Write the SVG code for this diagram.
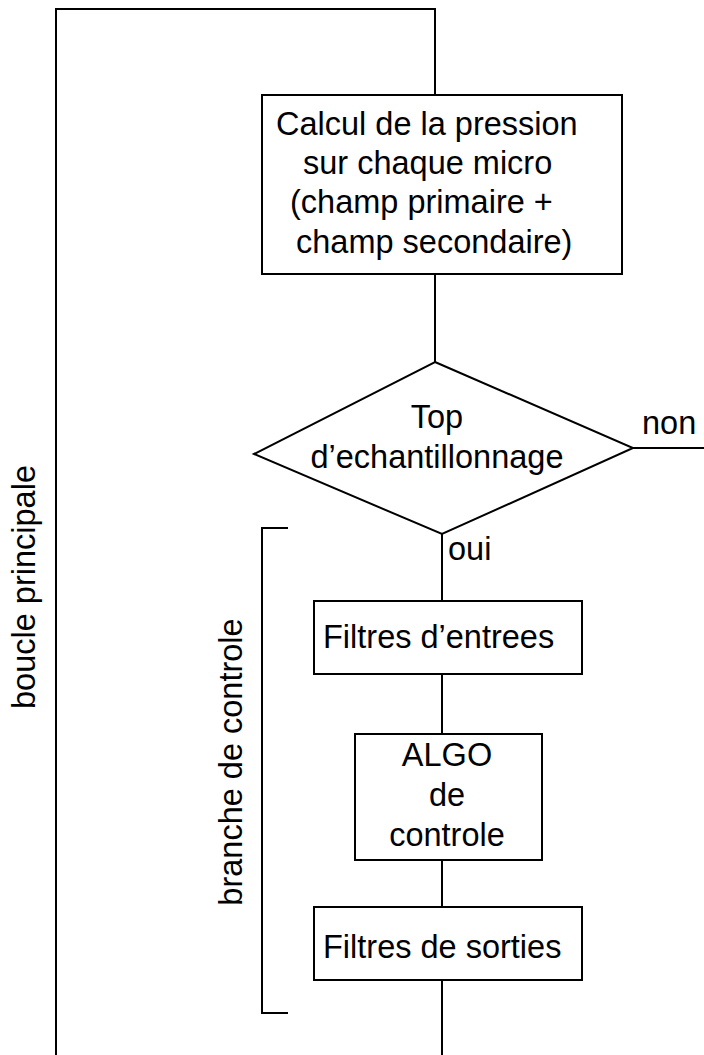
<svg xmlns="http://www.w3.org/2000/svg" width="704" height="1055" viewBox="0 0 704 1055">
<style>
.ln{fill:none;stroke:#000;stroke-width:2}
.bx{fill:#fff;stroke:#000;stroke-width:2}
text{font-family:"Liberation Sans",Arial,sans-serif;font-size:32.5px;fill:#000}
.m{text-anchor:middle}
</style>
<rect width="704" height="1055" fill="#fff"/>
<g id="connectors">
<polyline class="ln" points="56,1055 56,9 435,9 435,95"/>
<line class="ln" x1="435" y1="274" x2="435" y2="362"/>
<line class="ln" x1="633" y1="448" x2="704" y2="448"/>
<line class="ln" x1="442" y1="534" x2="442" y2="1055"/>
<text x="448" y="560">oui</text>
<text x="642" y="434">non</text>
</g>
<g id="loop-label">
<text class="m" transform="translate(35,587) rotate(-90)">boucle principale</text>
</g>
<g id="bracket">
<polyline class="ln" points="288,528 262,528 262,1013 288,1013"/>
<text class="m" transform="translate(242,762) rotate(-90)">branche de controle</text>
</g>
<g id="calcul">
<rect class="bx" x="262" y="95" width="360" height="179"/>
<text x="276" y="135">Calcul de la pression</text>
<text x="303" y="174">sur chaque micro</text>
<text x="290" y="213">(champ primaire +</text>
<text x="296" y="253">champ secondaire)</text>
</g>
<g id="top">
<polygon class="bx" points="435,362 633,448 442,534 254,454"/>
<text class="m" x="437" y="428">Top</text>
<text class="m" x="437" y="468">d’echantillonnage</text>
</g>
<g id="filtres-entrees">
<rect class="bx" x="314" y="601" width="268" height="73"/>
<text x="323" y="648">Filtres d’entrees</text>
</g>
<g id="algo">
<rect class="bx" x="355" y="734" width="187" height="126"/>
<text class="m" x="447" y="766">ALGO</text>
<text class="m" x="447" y="806">de</text>
<text class="m" x="447" y="846">controle</text>
</g>
<g id="filtres-sorties">
<rect class="bx" x="314" y="907" width="268" height="73"/>
<text x="323" y="958">Filtres de sorties</text>
</g>
</svg>
